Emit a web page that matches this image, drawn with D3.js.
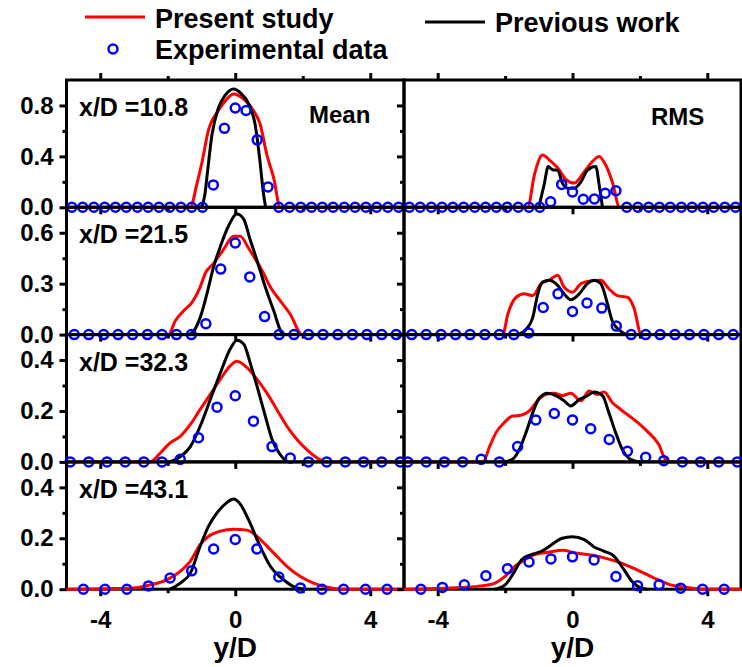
<!DOCTYPE html>
<html>
<head>
<meta charset="utf-8">
<script src="https://cdn.jsdelivr.net/npm/d3@7"></script>
<style>
  body { margin: 0; background: #fff; }
  text { font-family: "Liberation Sans", Arial, sans-serif; font-weight: bold; fill: #000; }
</style>
</head>
<body>
<svg id="chart" width="742" height="667"></svg>
<script>
// ---- data ----
var stations = ["x/D =10.8", "x/D =21.5", "x/D =32.3", "x/D =43.1"];
var yMax = [1.0, 0.75, 0.5, 0.5];
var yMajor = [[0, 0.4, 0.8], [0, 0.3, 0.6], [0, 0.2, 0.4], [0, 0.2, 0.4]];
var yMinor = [[0.2, 0.6], [0.15, 0.45], [0.1, 0.3], [0.1, 0.3]];
var xMajor = [-4, 0, 4];
var xMinor = [-2, 2];

// experimental points (y/D positions and values), one set per station
var expX1 = [-4.84, -4.52, -4.19, -3.87, -3.55, -3.23, -2.9, -2.58, -2.26, -1.94, -1.61, -1.29, -0.97, -0.65, -0.32, 0,
             0.32, 0.65, 0.97, 1.29, 1.61, 1.94, 2.26, 2.58, 2.9, 3.23, 3.55, 3.87, 4.19, 4.52, 4.84];
var expMean1 = [0, 0, 0, 0, 0, 0, 0, 0, 0, 0, 0, 0, 0, 0.176, 0.62, 0.78,
                0.76, 0.53, 0.16, 0, 0, 0, 0, 0, 0, 0, 0, 0, 0, 0, 0];
var expRms1 = [0, 0, 0, 0, 0, 0, 0, 0, 0, 0, 0, 0, 0, 0.044, 0.18, 0.12,
               0.063, 0.066, 0.11, 0.13, 0, 0, 0, 0, 0, 0, 0, 0, 0, 0, 0];

var expX2 = [-4.77, -4.34, -3.9, -3.47, -3.04, -2.6, -2.17, -1.74, -1.3, -0.87, -0.43, 0,
             0.43, 0.87, 1.3, 1.74, 2.17, 2.6, 3.04, 3.47, 3.9, 4.34, 4.77];
var expMean2 = [0, 0, 0, 0, 0, 0, 0, 0, 0, 0.064, 0.386, 0.54,
                0.34, 0.106, 0, 0, 0, 0, 0, 0, 0, 0, 0];
var expRms2 = [0, 0, 0, 0, 0, 0, 0, 0, 0.01, 0.16, 0.24, 0.136,
               0.186, 0.156, 0.05, 0, 0, 0, 0, 0, 0, 0, 0];

var expX3 = [-4.89, -4.34, -3.8, -3.26, -2.71, -2.17, -1.63, -1.09, -0.54, 0,
             0.54, 1.09, 1.63, 2.17, 2.71, 3.26, 3.8, 4.34, 4.89];
var expMean3 = [0, 0, 0, 0, 0, 0, 0.01, 0.095, 0.215, 0.26,
                0.16, 0.06, 0.015, 0, 0, 0, 0, 0, 0];
var expRms3 = [0, 0, 0, 0, 0.01, 0, 0.06, 0.165, 0.19, 0.165,
               0.13, 0.088, 0.042, 0.018, 0.005, 0, 0, 0, 0];

var expX4 = [-4.5, -3.86, -3.21, -2.57, -1.93, -1.29, -0.64, 0, 0.64, 1.29, 1.93, 2.57, 3.21, 3.86, 4.5];
var expMean4 = [0, 0, 0, 0.013, 0.044, 0.072, 0.158, 0.195, 0.158, 0.048, 0.005, 0, 0, 0, 0];
var expRms4 = [0, 0.007, 0.017, 0.053, 0.08, 0.107, 0.119, 0.127, 0.115, 0.05, 0.014, 0.017, 0.004, 0, 0];

// present study (red) and previous work (black) profiles as [y/D, value]
var presentMean1 = [[-5, 0], [-1.33, 0], [-1.14, 0.18], [-0.98, 0.36], [-0.8, 0.6], [-0.5, 0.76], [-0.25, 0.85], [-0.05, 0.89],
                    [0.25, 0.85], [0.54, 0.76], [0.74, 0.65], [0.94, 0.41], [1.14, 0.23], [1.33, 0], [5, 0]];
var previousMean1 = [[-1.0, 0], [-0.9, 0.1], [-0.83, 0.26], [-0.69, 0.57], [-0.5, 0.78], [-0.3, 0.88], [-0.05, 0.93],
                     [0.15, 0.9], [0.4, 0.81], [0.59, 0.65], [0.72, 0.39], [0.84, 0.1], [0.9, 0]];
var presentRms1 = [[-5, 0], [-1.33, 0], [-1.13, 0.255], [-0.89, 0.41], [-0.64, 0.36], [-0.44, 0.31], [-0.2, 0.22], [0.05, 0.19],
                   [0.35, 0.28], [0.59, 0.36], [0.79, 0.4], [0.99, 0.33], [1.18, 0.2], [1.4, 0], [5, 0]];
var previousRms1 = [[-1.0, 0], [-0.84, 0.18], [-0.72, 0.32], [-0.59, 0.295], [-0.44, 0.29], [-0.3, 0.19], [-0.15, 0.15],
                    [0.05, 0.15], [0.25, 0.2], [0.44, 0.29], [0.69, 0.32], [0.79, 0.18], [0.89, 0]];

var presentMean2 = [[-5, 0], [-1.98, 0], [-1.78, 0.08], [-1.53, 0.14], [-1.28, 0.19], [-1.04, 0.28], [-0.89, 0.36], [-0.64, 0.42],
                    [-0.35, 0.5], [-0.05, 0.58], [0.15, 0.58], [0.39, 0.51], [0.64, 0.43], [0.84, 0.36], [1.04, 0.28],
                    [1.33, 0.2], [1.63, 0.12], [1.98, 0], [5, 0]];
var previousMean2 = [[-1.4, 0], [-1.28, 0.01], [-1.04, 0.1], [-0.84, 0.24], [-0.64, 0.4], [-0.44, 0.52], [-0.2, 0.64], [0.05, 0.71],
                     [0.25, 0.68], [0.44, 0.56], [0.64, 0.44], [0.89, 0.28], [1.14, 0.14], [1.38, 0.01], [1.48, 0]];
var presentRms2 = [[-5, 0], [-2.07, 0], [-1.92, 0.12], [-1.67, 0.22], [-1.43, 0.24], [-1.18, 0.23], [-0.93, 0.3], [-0.69, 0.32],
                   [-0.44, 0.35], [-0.25, 0.28], [0, 0.25], [0.25, 0.3], [0.49, 0.315], [0.84, 0.32], [1.08, 0.27],
                   [1.33, 0.23], [1.63, 0.22], [1.82, 0.16], [2.04, 0], [5, 0]];
var previousRms2 = [[-1.62, 0], [-1.38, 0.03], [-1.18, 0.1], [-1.03, 0.24], [-0.89, 0.31], [-0.69, 0.32], [-0.44, 0.29],
                    [-0.25, 0.24], [-0.05, 0.206], [0.2, 0.24], [0.44, 0.3], [0.64, 0.32], [0.84, 0.3], [1.04, 0.18],
                    [1.18, 0.08], [1.43, 0.02], [1.58, 0]];

var presentMean3 = [[-5, 0], [-2.52, 0], [-2.22, 0.035], [-1.93, 0.075], [-1.63, 0.1], [-1.33, 0.147], [-1.04, 0.206],
                    [-0.74, 0.265], [-0.44, 0.325], [-0.15, 0.377], [0.05, 0.395], [0.35, 0.37], [0.64, 0.325],
                    [0.94, 0.27], [1.23, 0.206], [1.53, 0.14], [1.83, 0.088], [2.12, 0.048], [2.42, 0.016], [2.67, 0], [5, 0]];
var previousMean3 = [[-1.93, 0], [-1.63, 0.02], [-1.33, 0.06], [-1.04, 0.14], [-0.74, 0.245], [-0.44, 0.35], [-0.15, 0.443],
                     [0.05, 0.478], [0.25, 0.463], [0.44, 0.39], [0.64, 0.3], [0.89, 0.18], [1.09, 0.088], [1.33, 0.029], [1.53, 0]];
var presentRms3 = [[-5, 0], [-2.66, 0], [-2.46, 0.06], [-2.27, 0.115], [-2.02, 0.155], [-1.78, 0.18], [-1.53, 0.183],
                   [-1.28, 0.2], [-1.04, 0.24], [-0.79, 0.265], [-0.54, 0.27], [-0.3, 0.26], [-0.05, 0.27], [0.25, 0.24],
                   [0.49, 0.278], [0.74, 0.265], [0.94, 0.275], [1.18, 0.233], [1.43, 0.206], [1.82, 0.167], [2.22, 0.12],
                   [2.56, 0.068], [2.76, 0.01], [2.9, 0], [5, 0]];
var previousRms3 = [[-2.02, 0], [-1.78, 0.01], [-1.58, 0.048], [-1.38, 0.115], [-1.18, 0.193], [-0.99, 0.25], [-0.74, 0.27],
                    [-0.49, 0.26], [-0.25, 0.24], [-0.05, 0.22], [0.2, 0.245], [0.44, 0.26], [0.64, 0.275], [0.89, 0.26],
                    [1.08, 0.193], [1.28, 0.115], [1.48, 0.048], [1.72, 0.01], [1.97, 0]];

var presentMean4 = [[-5, 0], [-3.01, 0.005], [-2.52, 0.017], [-2.03, 0.037], [-1.63, 0.07], [-1.33, 0.11], [-1.04, 0.175],
                    [-0.79, 0.208], [-0.44, 0.228], [-0.05, 0.235], [0.35, 0.232], [0.64, 0.208], [0.94, 0.169],
                    [1.23, 0.13], [1.53, 0.09], [1.93, 0.05], [2.32, 0.024], [2.72, 0.008], [3.11, 0], [5, 0]];
var previousMean4 = [[-1.93, 0], [-1.63, 0.024], [-1.33, 0.063], [-1.04, 0.169], [-0.79, 0.248], [-0.54, 0.3], [-0.25, 0.34],
                     [-0.05, 0.354], [0.15, 0.334], [0.39, 0.274], [0.69, 0.182], [1.04, 0.09], [1.43, 0.037], [1.83, 0.005], [2.12, 0]];
var presentRms4 = [[-5, 0], [-3.3, 0.007], [-2.7, 0.013], [-2.3, 0.024], [-2.0, 0.05], [-1.71, 0.09], [-1.41, 0.116],
                   [-1.12, 0.136], [-0.72, 0.145], [-0.28, 0.153], [0.05, 0.143], [0.44, 0.136], [0.94, 0.123],
                   [1.43, 0.103], [1.92, 0.076], [2.42, 0.044], [2.91, 0.017], [3.4, 0.007], [3.9, 0], [5, 0]];
var previousRms4 = [[-2.3, 0], [-2.0, 0.017], [-1.75, 0.063], [-1.51, 0.116], [-1.22, 0.136], [-0.92, 0.149], [-0.62, 0.175],
                    [-0.33, 0.199], [0, 0.206], [0.35, 0.195], [0.64, 0.166], [0.94, 0.149], [1.23, 0.13], [1.53, 0.076],
                    [1.77, 0.03], [2.02, 0.005], [2.22, 0]];

var expX = [expX1, expX2, expX3, expX4];
var expMean = [expMean1, expMean2, expMean3, expMean4];
var expRms = [expRms1, expRms2, expRms3, expRms4];
var presentMean = [presentMean1, presentMean2, presentMean3, presentMean4];
var previousMean = [previousMean1, previousMean2, previousMean3, previousMean4];
var presentRms = [presentRms1, presentRms2, presentRms3, presentRms4];
var previousRms = [previousRms1, previousRms2, previousRms3, previousRms4];

// ---- layout ----
var firstRowY = 80, rowH = 127.3;
var red = "#ff0000", blue = "#0000ff";

var svg = d3.select("#chart");

var xLeft = d3.scaleLinear().domain([-5, 5]).range([66.5, 404]);
var xRight = d3.scaleLinear().domain([-5, 5]).range([404, 741]);

var line = function(x, y) {
    return d3.line()
        .x(function(d) { return x(d[0]); })
        .y(function(d) { return y(d[1]); })
        .curve(d3.curveMonotoneX);
};

function strokeTicks(g) {
    g.select(".domain").remove();
    g.selectAll(".tick line").attr("stroke", "#000").attr("stroke-width", 3);
}

function drawRow(i) {
    var rowY = firstRowY + i * rowH;
    var y = d3.scaleLinear().domain([0, yMax[i]]).range([rowY + rowH, rowY]);
    var last = (i === 3);

    [xLeft, xRight].forEach(function(x, col) {
        var g = svg.append("g");

        // minor and major ticks, all pointing outwards
        g.append("g").attr("transform", "translate(" + x.range()[0] + ",0)")
            .call(d3.axisLeft(y).tickValues(yMinor[i]).tickSize(4).tickFormat(""))
            .call(strokeTicks);
        var yAx = g.append("g").attr("transform", "translate(" + x.range()[0] + ",0)")
            .call(d3.axisLeft(y).tickValues(yMajor[i]).tickSize(7).tickPadding(6)
                .tickFormat(col === 0 ? d3.format(".1f") : ""))
            .call(strokeTicks);
        yAx.selectAll("text").attr("font-size", 24).attr("font-family", null);

        g.append("g").attr("transform", "translate(0," + (rowY + rowH) + ")")
            .call(d3.axisBottom(x).tickValues(xMinor).tickSize(4).tickFormat(""))
            .call(strokeTicks);
        var xAx = g.append("g").attr("transform", "translate(0," + (rowY + rowH) + ")")
            .call(d3.axisBottom(x).tickValues(xMajor).tickSize(7).tickPadding(15)
                .tickFormat(last ? function(d) { return String(d); } : ""))
            .call(strokeTicks);
        xAx.selectAll("text").attr("font-size", 24).attr("font-family", null);

        if (i === 0) {
            g.append("g").attr("transform", "translate(0," + rowY + ")")
                .call(d3.axisTop(x).tickValues(xMinor).tickSize(4).tickFormat(""))
                .call(strokeTicks);
            g.append("g").attr("transform", "translate(0," + rowY + ")")
                .call(d3.axisTop(x).tickValues(xMajor).tickSize(7).tickFormat(""))
                .call(strokeTicks);
        }

        // frame
        g.append("rect")
            .attr("x", x.range()[0]).attr("y", rowY)
            .attr("width", x.range()[1] - x.range()[0]).attr("height", rowH)
            .attr("fill", "none").attr("stroke", "#000").attr("stroke-width", 3);

        var pres = col === 0 ? presentMean[i] : presentRms[i];
        var prev = col === 0 ? previousMean[i] : previousRms[i];
        var expV = col === 0 ? expMean[i] : expRms[i];

        g.append("path").datum(pres)
            .attr("d", line(x, y))
            .attr("fill", "none").attr("stroke", red).attr("stroke-width", 3);
        g.append("path").datum(prev)
            .attr("d", line(x, y))
            .attr("fill", "none").attr("stroke", "#000").attr("stroke-width", 3);

        g.selectAll("circle").data(expX[i])
            .enter().append("circle")
            .attr("cx", function(d) { return x(d); })
            .attr("cy", function(d, k) { return y(expV[k]); })
            .attr("r", 4.5)
            .attr("fill", "none").attr("stroke", blue).attr("stroke-width", 2.5);

        if (last) {
            g.append("text")
                .text("y/D")
                .attr("x", x(0)).attr("y", 657)
                .attr("text-anchor", "middle")
                .attr("font-size", 28);
        }
    });

    svg.append("text")
        .text(stations[i])
        .attr("x", 79).attr("y", rowY + 36)
        .attr("font-size", 25);
}

for (var r = 0; r < 4; r++) drawRow(r);

svg.append("text").text("Mean").attr("x", 309).attr("y", 123).attr("font-size", 24);
svg.append("text").text("RMS").attr("x", 651).attr("y", 125).attr("font-size", 24);

// ---- legend ----
var legend = svg.append("g");
legend.append("line").attr("x1", 85).attr("x2", 145).attr("y1", 17).attr("y2", 17)
    .attr("stroke", red).attr("stroke-width", 3);
legend.append("text").text("Present study").attr("x", 155).attr("y", 28).attr("font-size", 27);
legend.append("line").attr("x1", 425).attr("x2", 485).attr("y1", 22).attr("y2", 22)
    .attr("stroke", "#000").attr("stroke-width", 3);
legend.append("text").text("Previous work").attr("x", 495).attr("y", 32).attr("font-size", 27);
legend.append("circle").attr("cx", 113).attr("cy", 49).attr("r", 4.5)
    .attr("fill", "none").attr("stroke", blue).attr("stroke-width", 2.5);
legend.append("text").text("Experimental data").attr("x", 155).attr("y", 59).attr("font-size", 27);
</script>
</body>
</html>
